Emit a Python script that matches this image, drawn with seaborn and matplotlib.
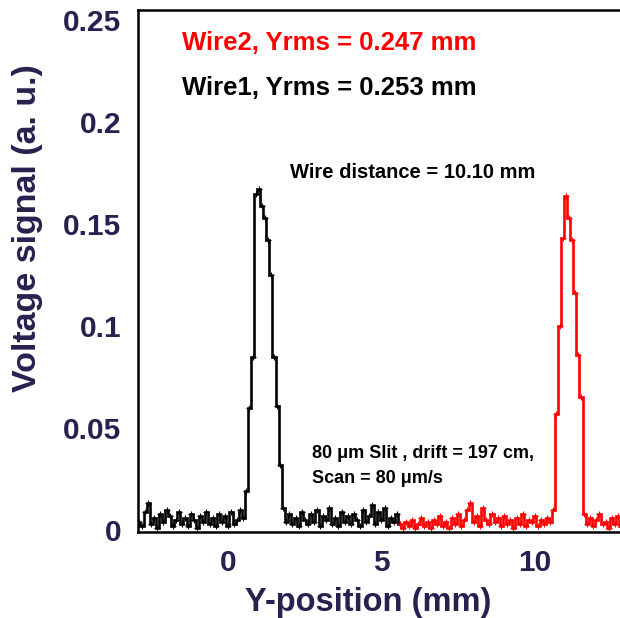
import numpy as np
import pandas as pd
import matplotlib
matplotlib.use("Agg")
import matplotlib.pyplot as plt
import seaborn as sns

# Scan grid: 0.1 mm steps
wire1_start, wire1_step = -2.9, 0.1
wire2_start, wire2_step = 5.6, 0.1

wire1_signal = [
    0.004, 0.002, 0.009, 0.013, 0.003, 0.006, 0.001, 0.008, 0.004, 0.010,
    0.007, 0.002, 0.005, 0.009, 0.003, 0.006, 0.002, 0.008, 0.005, 0.001,
    0.007, 0.004, 0.009, 0.003, 0.006, 0.002, 0.008, 0.004, 0.007, 0.002,
    0.009, 0.003, 0.005, 0.010, 0.006, 0.019, 0.060, 0.085, 0.165, 0.167,
    0.159, 0.153, 0.142, 0.125, 0.085, 0.061, 0.032, 0.011, 0.004, 0.008,
    0.003, 0.006, 0.002, 0.009, 0.005, 0.003, 0.008, 0.004, 0.010, 0.002,
    0.007, 0.005, 0.011, 0.003, 0.006, 0.002, 0.009, 0.004, 0.007, 0.003,
    0.008, 0.005, 0.002, 0.010, 0.004, 0.007, 0.012, 0.003, 0.009, 0.005,
    0.011, 0.002, 0.006, 0.004, 0.008, 0.003,
]

wire2_signal = [
    0.003, 0.001, 0.004, 0.002, 0.005, 0.001, 0.003, 0.006, 0.002, 0.004,
    0.001, 0.005, 0.003, 0.007, 0.002, 0.004, 0.001, 0.006, 0.003, 0.008,
    0.002, 0.005, 0.010, 0.013, 0.004, 0.007, 0.002, 0.011, 0.005, 0.003,
    0.008, 0.004, 0.006, 0.002, 0.007, 0.003, 0.005, 0.001, 0.006, 0.003,
    0.008, 0.002, 0.005, 0.004, 0.007, 0.002, 0.005, 0.003, 0.006, 0.004,
    0.010, 0.057, 0.100, 0.143, 0.164, 0.153, 0.142, 0.116, 0.086, 0.065,
    0.008, 0.003, 0.006, 0.002, 0.005, 0.008, 0.003, 0.004, 0.001, 0.006,
    0.003, 0.007, 0.002,
]

x_ticks = [0, 5, 10]
y_ticks = [0, 0.05, 0.1, 0.15, 0.2, 0.25]
y_tick_labels = ["0", "0.05", "0.1", "0.15", "0.2", "0.25"]

wire1 = pd.DataFrame({
    "y": np.round(wire1_start + wire1_step * np.arange(len(wire1_signal)), 3),
    "v": wire1_signal,
})
wire2 = pd.DataFrame({
    "y": np.round(wire2_start + wire2_step * np.arange(len(wire2_signal)), 3),
    "v": wire2_signal,
})

sns.set_style("white")
plt.rcParams["font.family"] = ["Liberation Sans", "DejaVu Sans"]

label_color = "#2a2050"

fig = plt.figure(figsize=(6.2, 6.18), dpi=100)
ax = fig.add_axes([0.2226, 0.1392, 0.7774, 0.8446])

for df, col in ((wire1, "black"), (wire2, "red")):
    sns.lineplot(data=df, x="y", y="v", ax=ax, color=col, linewidth=1.9,
                 marker="+", markersize=5, markeredgewidth=0.8,
                 markeredgecolor=col, markerfacecolor=col,
                 estimator=None, sort=True)

# histogram-style trace: step at the midpoint between samples
for line in ax.get_lines():
    line.set_drawstyle("steps-mid")
    line.set_solid_joinstyle("miter")

ax.set_xlim(-2.93, 12.77)
ax.set_ylim(-0.001, 0.255)
ax.set_xticks(x_ticks)
ax.set_yticks(y_ticks)
ax.set_yticklabels(y_tick_labels)
ax.tick_params(axis="both", direction="in", length=7, width=1.5,
               color="black", labelsize=21.5, labelcolor=label_color, pad=12)
for lab in ax.get_xticklabels() + ax.get_yticklabels():
    lab.set_fontweight("bold")

ax.set_xlabel("Y-position (mm)", fontsize=23.5, fontweight="bold",
              color=label_color)
ax.set_ylabel("Voltage signal (a. u.)", fontsize=24.5, fontweight="bold",
              color=label_color)
ax.xaxis.set_label_coords(0.477, -0.105)
ax.yaxis.set_label_coords(-0.197, 0.582)

for side in ("left", "top", "bottom"):
    ax.spines[side].set_linewidth(1.8)
    ax.spines[side].set_color("black")
ax.spines["right"].set_visible(False)

ax.text(-1.5, 0.2387, "Wire2, Yrms = 0.247 mm", color="red", fontsize=18.5,
        fontweight="bold", va="center", ha="left")
ax.text(-1.5, 0.2167, "Wire1, Yrms = 0.253 mm", color="black", fontsize=18.5,
        fontweight="bold", va="center", ha="left")
ax.text(2.02, 0.1755, "Wire distance = 10.10 mm", color="black", fontsize=14.5,
        fontweight="bold", va="center", ha="left")
ax.text(2.74, 0.0377, "80 μm Slit , drift = 197 cm,", color="black",
        fontsize=13, fontweight="bold", va="center", ha="left")
ax.text(2.74, 0.025, "Scan = 80 μm/s", color="black", fontsize=13,
        fontweight="bold", va="center", ha="left")

fig.savefig("out.png", dpi=100)
